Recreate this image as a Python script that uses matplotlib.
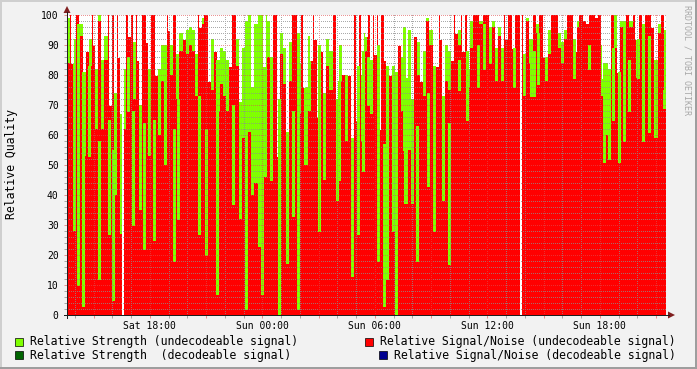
import datetime as dt
import numpy as np
import matplotlib
matplotlib.use("Agg")
import matplotlib.pyplot as plt
import matplotlib.dates as mdates
from matplotlib.ticker import MultipleLocator, FuncFormatter
from matplotlib.patches import Rectangle, Polygon
from matplotlib.lines import Line2D

plt.rcParams["font.family"] = "DejaVu Sans Mono"

# samples every 10 minutes, starting Sat 13:35
start = dt.datetime(2009, 1, 3, 13, 35)
step_min = 10

sn_undecodeable = [
    84, 100, 28, 100, 93, 53, 100, 83, 100, 62, 98, 62, 85, 100, 100, 40,
    100, 27, 62, 100, 100, 72, 100, 35, 100, 100, 53, 100, 100, 60, 78, 50,
    100, 80, 100, 72, 88, 100, 87, 90, 88, 73, 100, 97, 100, 100, 75, 100,
    68, 77, 73, 68, 100, 100, 83, 32, 59, 29, 61, 40, 44, 47, 39, 46,
    86, 72, 100, 100, 87, 77, 17, 78, 100, 100, 67, 100, 50, 68, 100, 100,
    100, 100, 45, 83, 75, 100, 38, 78, 80, 58, 100, 59, 100, 100, 58, 88,
    100, 67, 100, 100, 100, 100, 63, 100, 56, 0, 100, 68, 37, 55, 37, 100,
    80, 100, 73, 98, 90, 62, 100, 100, 38, 78, 75, 100, 100, 90, 100, 100,
    76, 89, 100, 100, 97, 100, 100, 92, 96, 78, 93, 78, 100, 100, 100, 100,
    100, 100, 73, 98, 84, 100, 94, 100, 100, 78, 87, 100, 100, 89, 84, 92,
    100, 100, 88, 96, 100, 98, 97, 100, 100, 99, 100, 73, 60, 82, 100, 89,
    100, 96, 96, 100, 96, 100, 79, 100, 83, 100, 100, 96, 59, 94, 100, 75,
]
strength_undecodeable = [
    99, 90, 92, 85, 97, 81, 80, 92, 85, 82, 100, 85, 93, 80, 75, 74,
    85, 67, 82, 86, 80, 91, 85, 70, 64, 80, 82, 70, 85, 82, 90, 90,
    85, 90, 62, 87, 94, 90, 95, 96, 95, 87, 90, 99, 62, 85, 92, 85,
    85, 89, 88, 85, 85, 70, 92, 71, 89, 98, 100, 76, 97, 100, 100, 100,
    98, 86, 97, 72, 94, 89, 61, 91, 68, 94, 84, 76, 76, 93, 85, 90,
    90, 85, 74, 92, 88, 80, 72, 90, 80, 80, 85, 59, 83, 85, 80, 94,
    86, 85, 85, 90, 85, 57, 83, 85, 56, 81, 85, 86, 79, 95, 72, 63,
    91, 85, 88, 99, 95, 83, 85, 85, 73, 90, 88, 85, 85, 95, 90, 88,
    82, 98, 90, 90, 98, 97, 90, 96, 98, 89, 96, 89, 90, 90, 89, 90,
    93, 90, 87, 99, 92, 88, 97, 90, 86, 86, 95, 90, 90, 94, 91, 95,
    90, 90, 92, 98, 90, 98, 97, 90, 90, 99, 90, 90, 84, 82, 89, 100,
    81, 98, 98, 85, 98, 90, 92, 90, 97, 90, 93, 98, 85, 97, 90, 95,
]

# single samples that show as thin green lines (minutes after start)
spike_min = [35, 50, 70, 104, 133, 147, 194, 210, 246, 278, 344, 355, 421, 445,
             480, 531, 573, 613, 624, 653, 677, 723, 739, 805, 870, 913, 930,
             946, 963, 996, 1013, 1024, 1042, 1078, 1120, 1155, 1175, 1222,
             1254, 1280, 1315, 1333, 1354, 1429, 1485, 1493, 1506, 1624, 1670,
             1717, 1733, 1747, 1765, 1781, 1797, 1826, 1842, 1861, 1910]
spike_low = [10, 3, 53, 12, 27, 5, 68, 30, 22, 25, 18, 32, 27, 20, 7, 37, 2,
             23, 7, 45, 0, 33, 2, 28, 45, 13, 27, 48, 70, 18, 3, 12, 28, 55,
             18, 43, 28, 17, 75, 65, 76, 82, 84, 76, 73, 73, 77, 79, 82, 51,
             52, 65, 51, 58, 68, 79, 58, 61, 69]
spike_high = [97, 81, 83, 58, 65, 55, 86, 68, 64, 65, 62, 72, 73, 62, 85, 70,
              29, 47, 39, 74, 72, 68, 94, 90, 78, 59, 83, 88, 86, 90, 57, 83,
              83, 96, 63, 74, 62, 64, 85, 88, 90, 97, 92, 89, 84, 88, 94, 92,
              90, 84, 82, 89, 81, 96, 85, 92, 83, 93, 75]

# thin white notches from the top (no data above)
notch_min = [16, 64, 86, 139, 166, 198, 226, 256, 285, 326, 374, 426, 454, 474,
             522, 629, 674, 738, 758, 781, 794, 803, 813, 845, 902, 928, 957,
             986, 999, 1018, 1034, 1062, 1114, 1133, 1184, 1197, 1232, 1245,
             1267, 1406, 1427, 1526, 1626, 1715, 1763, 1821, 1872]
notch_low = [84, 88, 90, 70, 86, 93, 85, 91, 80, 95, 92, 96, 78, 88,
             83, 83, 53, 54, 76, 85, 92, 66, 88, 95, 80, 65, 93,
             87, 62, 85, 80, 90, 93, 78, 83, 92, 85, 94,
             88, 92, 89, 86, 88, 79, 81, 92, 96]

# missing samples
gap_min = [178, 1453]

GREEN = "#80ff00"
DKGREEN = "#006400"
RED = "#ff0000"
BLUE = "#000090"
MGRID = (0.87, 0.31, 0.31, 0.6)
GRID = (0.56, 0.56, 0.56, 0.75)

W, H = 697, 369
PX, PY, PW, PH = 67, 15, 599, 300   # plot area in pixels


def fx(x):
    return x / W


def fy(y):
    return 1 - y / H


fig = plt.figure(figsize=(W / 100, H / 100), dpi=100, facecolor="#f2f2f2")
ax = fig.add_axes([fx(PX), fy(PY + PH), PW / W, PH / H], facecolor="white")

t0 = mdates.date2num(start)
day_step = step_min / 1440
cols = t0 + np.arange(len(sn_undecodeable)) * day_step
xlim = (t0, t0 + (31 * 60 + 57) / 1440)

ax.bar(cols, strength_undecodeable, width=day_step, align="edge", color=GREEN,
       linewidth=0, antialiased=False, zorder=1)
ax.bar(cols, sn_undecodeable, width=day_step, align="edge", color=RED,
       linewidth=0, antialiased=False, zorder=1.1)
ax.vlines(t0 + np.array(notch_min) / 1440, notch_low, 100, colors="white",
          lw=0.75, antialiased=False, zorder=1.2)
ax.vlines(t0 + np.array(spike_min) / 1440, spike_low, spike_high, colors=GREEN,
          lw=0.75, antialiased=False, zorder=1.3)
ax.vlines(t0 + np.array(gap_min) / 1440, 0, 100, colors="white",
          lw=1.2, antialiased=False, zorder=1.4)

ax.set_xlim(*xlim)
ax.set_ylim(0, 100)

ax.xaxis.set_major_locator(mdates.HourLocator(byhour=range(0, 24, 3)))
ax.xaxis.set_minor_locator(mdates.HourLocator())


def time_label(x, pos):
    d = mdates.num2date(x)
    return d.strftime("%a %H:%M") if d.hour % 6 == 0 else ""


ax.xaxis.set_major_formatter(FuncFormatter(time_label))
ax.yaxis.set_major_locator(MultipleLocator(10))
ax.yaxis.set_minor_locator(MultipleLocator(2))

# rrdtool style dotted grid: one pixel on, one off, drawn over the areas
overlay = np.zeros((PH, PW, 4))
to_px = ax.transData.transform


def hline(v, c):
    r = int(round(H - to_px((xlim[0], v))[1])) - PY
    if 0 <= r < PH:
        overlay[r, 0::2] = c


def vline(t, c):
    k = int(round(to_px((t, 0))[0])) - PX
    if 0 < k < PW:
        overlay[0::2, k] = c


for v in ax.yaxis.get_minorticklocs():
    hline(v, GRID)
for t in ax.xaxis.get_minorticklocs():
    vline(t, GRID)
for v in ax.yaxis.get_majorticklocs():
    hline(v, MGRID)
for t in ax.xaxis.get_majorticklocs():
    vline(t, MGRID)

ax.imshow(overlay, extent=(xlim[0], xlim[1], 0, 100), aspect="auto",
          interpolation="nearest", zorder=2)
ax.set_xlim(*xlim)
ax.set_ylim(0, 100)

for s in ax.spines.values():
    s.set_visible(False)

ax.tick_params(which="major", direction="out", length=2, width=0.72,
               color=MGRID, labelsize=7)
ax.tick_params(which="minor", direction="out", length=2, width=0.72, color=GRID)
ax.tick_params(axis="x", pad=2.5)
ax.tick_params(axis="y", pad=4)

fig.text(fx(12), fy(164), "Relative Quality", fontsize=8.3, rotation=90,
         ha="center", va="center")

# axes with arrows
fig.add_artist(Line2D([fx(64), fx(669)], [fy(315), fy(315)], color="#1f1f1f", lw=0.72))
fig.add_artist(Line2D([fx(67), fx(67)], [fy(318), fy(12)], color="#1f1f1f", lw=0.72))
fig.add_artist(Polygon([(fx(668), fy(311.5)), (fx(675), fy(315)), (fx(668), fy(318.5))],
                       closed=True, color="#801f1f", lw=0))
fig.add_artist(Polygon([(fx(63.5), fy(13)), (fx(67), fy(6)), (fx(70.5), fy(13))],
                       closed=True, color="#801f1f", lw=0))

# legend
legend = [
    (15, 30, 341.5, GREEN, "Relative Strength (undecodeable signal)"),
    (15, 30, 355, DKGREEN, "Relative Strength  (decodeable signal)"),
    (365, 380, 341.5, RED, "Relative Signal/Noise (undecodeable signal)"),
    (379, 394, 355, BLUE, "Relative Signal/Noise (decodeable signal)"),
]
for bx, tx, ty, c, label in legend:
    fig.add_artist(Rectangle((fx(bx), fy(ty + 4)), 8 / W, 8 / H, facecolor=c,
                             edgecolor="black", lw=0.5))
    fig.text(fx(tx), fy(ty), label, fontsize=8.3, va="center", ha="left")

fig.text(fx(687), fy(60), "RRDTOOL / TOBI OETIKER", rotation=270, fontsize=6,
         color="#a8a8a8", ha="center", va="center")

# 3d-ish border
fig.add_artist(Rectangle((0, fy(2)), 1, 2 / H, color="#cfcfcf", lw=0))
fig.add_artist(Rectangle((0, 0), 2 / W, 1, color="#cfcfcf", lw=0))
fig.add_artist(Rectangle((0, 0), 1, 2 / H, color="#9e9e9e", lw=0))
fig.add_artist(Rectangle((fx(695), 0), 2 / W, 1, color="#9e9e9e", lw=0))

fig.savefig("out.png", dpi=100, facecolor=fig.get_facecolor())
